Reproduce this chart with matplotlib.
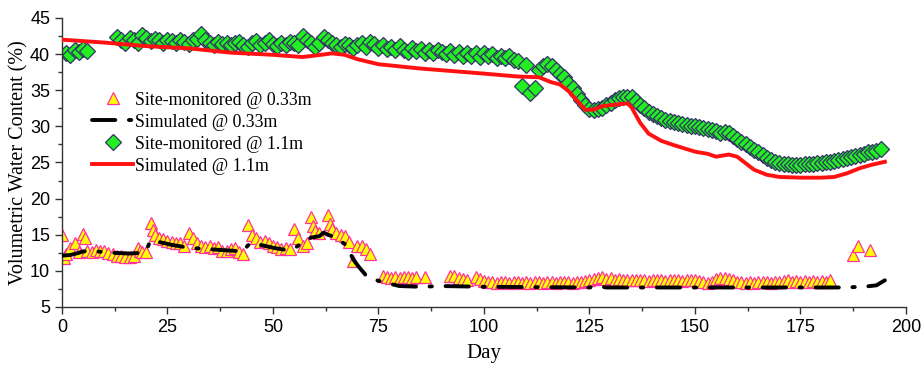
import matplotlib
matplotlib.use('Agg')
import matplotlib.pyplot as plt
from matplotlib.ticker import MultipleLocator

# --- site-monitored @ 0.33m (day, VWC %) ---
obs033_day = [0, 0.5, 1, 2, 3, 4, 5, 5.5, 6, 7, 8, 9, 10, 11, 12, 13, 14, 15, 16, 17,
              18, 18.5, 19, 20, 21, 21.5, 22, 23, 24, 25, 26, 27, 28, 29, 30, 31, 32, 33, 34, 35,
              36, 37, 38, 39, 40, 41, 42, 43, 44, 45, 46, 47, 48, 49, 50, 51, 52, 53, 54, 55,
              56, 57, 58, 59, 59.5, 60, 61, 63, 63.5, 64, 65, 66, 67, 68, 69, 70, 71, 72, 73,
              76, 77, 78, 79, 80, 81, 82, 83, 84, 86,
              92, 93, 94, 95, 96, 98, 99,
              100, 101, 102, 103, 104, 105, 106, 107, 108, 109, 110, 111, 112, 113, 114, 115, 116, 117, 118, 119,
              120, 121, 122, 123, 124, 125, 126, 127, 128, 129, 130, 131, 132, 133, 134, 135, 136, 137, 138, 139,
              140, 141, 142, 143, 144, 145, 146, 147, 148, 149, 150, 151, 152, 153, 154, 155, 156, 157, 158, 159,
              160, 161, 162, 163, 164, 165, 166, 167, 168, 169, 170, 171, 172, 173, 174, 175, 176, 177, 178, 179,
              180, 181, 182,
              187.5, 188.7, 191.5]
obs033_vwc = [14.9, 11.8, 12.3, 13.2, 13.8, 12.6, 15.1, 14.5, 12.7, 12.6, 12.9, 12.7, 12.8, 12.5, 12.3, 12.0, 12.1, 11.9, 11.9, 12.1,
              13.2, 12.7, 12.6, 12.6, 16.6, 15.6, 15.0, 14.6, 14.4, 14.2, 14.0, 13.8, 13.9, 13.5, 15.3, 14.5, 13.8, 13.5, 13.3, 13.4,
              13.2, 13.3, 12.8, 12.7, 13.0, 13.2, 12.6, 12.4, 16.4, 15.0, 14.6, 14.0, 14.2, 13.8, 13.5, 13.3, 13.0, 13.2, 13.0, 15.8,
              14.6, 13.5, 13.8, 17.4, 16.2, 15.5, 15.2, 17.8, 16.5, 15.8, 15.3, 15.0, 14.8, 14.0, 11.3, 13.5, 13.4, 13.0, 12.4,
              9.3, 9.2, 9.0, 9.1, 9.0, 9.2, 9.1, 9.0, 9.2, 9.2,
              9.3, 9.3, 9.0, 8.9, 8.8, 9.2, 8.9,
              8.6, 8.5, 8.4, 8.3, 8.4, 8.5, 8.3, 8.4, 8.5, 8.3, 8.4, 8.3, 8.5, 8.4, 8.3, 8.4, 8.5, 8.3, 8.4, 8.5,
              8.4, 8.3, 8.4, 8.5, 8.6, 8.7, 8.9, 9.0, 9.1, 8.9, 9.0, 8.8, 8.9, 8.8, 8.7, 8.8, 8.7, 8.8, 8.7, 8.6,
              8.7, 8.8, 8.7, 8.6, 8.7, 8.8, 8.7, 8.6, 8.7, 8.8, 8.7, 8.6, 8.5, 8.3, 8.5, 8.9, 9.0, 9.0, 8.9, 8.8,
              8.5, 8.4, 8.3, 8.4, 8.3, 8.4, 8.5, 8.4, 8.3, 8.5, 8.4, 8.6, 8.7, 8.5, 8.6, 8.5, 8.6, 8.5, 8.6, 8.5,
              8.6, 8.5, 8.8,
              12.2, 13.5, 12.9]

# --- simulated @ 0.33m ---
sim033_day = [0, 2, 4, 5, 8, 12, 16, 19, 20, 21, 23, 26, 30, 35, 40, 43, 44, 45, 47, 50,
              53, 55, 57, 59, 61, 62, 63, 65, 67, 68, 69, 70, 72, 74, 77, 80, 85, 90, 100, 125,
              127, 129, 185, 190, 193, 195]
sim033_vwc = [12.1, 12.2, 12.5, 12.7, 12.7, 12.5, 12.4, 12.5, 12.9, 14.2, 14.0, 13.6, 13.2, 13.0, 12.8, 12.7, 13.5, 13.9, 13.6, 13.2,
              12.9, 13.1, 13.9, 14.6, 14.8, 15.3, 15.0, 14.6, 13.7, 12.8, 11.6, 10.8, 9.4, 8.8, 8.3, 7.9, 7.8, 7.9, 7.8, 7.7,
              7.9, 7.7, 7.7, 7.8, 8.0, 8.7]

# --- site-monitored @ 1.1m ---
obs11_day = [1, 2, 3, 4, 5, 6] + list(range(13, 195))
obs11_vwc = [40.2, 39.9, 40.5, 40.3, 40.7, 40.4,
             42.3, 42.0, 41.6, 42.2, 41.9, 41.5, 42.7, 42.2, 41.8, 42.1, 41.9, 41.6, 42.0, 41.8, 41.5, 41.9, 41.7,
             41.4, 41.9, 42.1, 42.8, 42.0, 41.6, 41.3, 41.7, 41.4, 41.6, 41.2, 41.5, 41.7, 41.3, 41.0, 41.5, 41.8,
             41.3, 41.6, 41.9, 41.4, 41.1, 41.6, 41.3, 41.7, 41.5, 41.2, 42.5, 42.0, 41.6, 41.0,
             41.5, 42.3, 41.9, 41.6, 41.3, 41.0, 41.4, 41.2, 40.9, 41.3, 41.6, 41.0, 41.7, 41.4, 40.8, 41.2, 40.7,
             41.0, 40.5, 41.1, 40.6, 40.3, 40.9, 40.4, 40.7, 40.2, 40.6, 40.1, 40.5, 40.3, 40.0, 40.4, 39.9, 40.3,
             39.8, 40.2, 39.7, 40.1, 39.6, 40.2, 39.7, 40.0, 39.5, 39.8, 39.4, 39.7, 39.2, 39.0, 35.6, 38.5, 34.6,
             35.3, 37.8, 38.3, 38.6, 38.4, 37.8, 37.2, 36.8, 36.0, 35.3, 34.5, 33.6, 32.9, 32.4, 32.3, 32.4, 32.6,
             32.9, 33.3, 33.6, 33.9, 34.0, 34.1, 34.0, 33.5, 33.0, 32.5, 32.0, 31.7, 31.4, 31.2, 30.9, 30.8, 30.6,
             30.4, 30.3, 30.2, 30.1, 30.0, 29.9, 29.8, 29.6, 29.5, 29.3, 29.1, 29.2, 29.1, 28.7, 28.3, 27.9, 27.5,
             27.1, 26.7, 26.4, 26.0, 25.6, 25.3, 25.0, 24.9, 24.8, 24.8, 24.7, 24.7, 24.7, 24.8, 24.8, 24.8, 24.9,
             24.9, 25.0, 25.1, 25.2, 25.3, 25.5, 25.6, 25.8, 25.9, 26.1, 26.2, 26.4, 26.5, 26.6, 26.8]

# --- simulated @ 1.1m ---
sim11_day = [0, 10, 20, 30, 40, 50, 57, 60, 64, 67, 70, 75, 85, 100, 108, 113, 116, 118, 120, 122,
             124, 126, 128, 131, 134, 135, 137, 139, 142, 145, 150, 153, 155, 158, 160, 162, 164, 167, 170, 175,
             180, 183, 186, 189, 192, 195]
sim11_vwc = [42.0, 41.6, 41.1, 40.8, 40.2, 39.9, 39.6, 39.8, 40.1, 39.9, 39.3, 38.6, 38.0, 37.3, 36.9, 36.8, 36.1, 35.8, 34.9, 33.6,
             32.3, 32.3, 32.8, 33.0, 33.2, 32.6, 30.5, 29.0, 28.0, 27.4, 26.5, 26.2, 25.8, 26.1, 25.8, 24.9, 24.0, 23.3, 23.0, 22.9,
             22.9, 23.0, 23.5, 24.2, 24.7, 25.1]

fig = plt.figure(figsize=(9.21, 3.67), dpi=100)
ax = fig.add_axes([0.0673, 0.1635, 0.9164, 0.7875])

ax.plot(obs033_day, obs033_vwc, linestyle='none', marker='^', ms=9,
        mfc='#FFFF00', mec='#FF3399', mew=0.9, label='Site-monitored @ 0.33m', zorder=2)
ax.plot(sim033_day, sim033_vwc, color='black', lw=2.8, dashes=(6, 3.5, 0.6, 3.5),
        dash_capstyle='round', label='Simulated @ 0.33m', zorder=3)
ax.plot(obs11_day, obs11_vwc, linestyle='none', marker='D', ms=8.5,
        mfc='#22EE22', mec='#333366', mew=0.9, label='Site-monitored @ 1.1m', zorder=2)
ax.plot(sim11_day, sim11_vwc, color='#FF1111', lw=2.8, label='Simulated @ 1.1m', zorder=3)

ax.set_xlim(0, 200)
ax.set_ylim(5, 45)
ax.xaxis.set_major_locator(MultipleLocator(25))
ax.xaxis.set_minor_locator(MultipleLocator(12.5))
ax.yaxis.set_major_locator(MultipleLocator(5))
ax.yaxis.set_minor_locator(MultipleLocator(2.5))
ax.spines['top'].set_visible(False)
ax.spines['right'].set_visible(False)
for s in ('left', 'bottom'):
    ax.spines[s].set_color('#333333')
    ax.spines[s].set_linewidth(1.0)
ax.tick_params(which='major', direction='out', length=5, width=1, colors='#333333',
               labelsize=13, labelcolor='black')
ax.tick_params(which='minor', direction='out', length=3, width=1, colors='#333333')
for lab in ax.get_xticklabels() + ax.get_yticklabels():
    lab.set_family('Liberation Sans')

ax.set_xlabel('Day', family='Liberation Serif', fontsize=15, labelpad=6)
ax.set_ylabel('Volumetric Water Content (%)', family='Liberation Serif', fontsize=14.5, labelpad=1)

leg = ax.legend(loc='upper left', bbox_to_anchor=(0.036, 0.745), frameon=False,
                prop={'family': 'Liberation Serif', 'size': 12.8}, handlelength=2.3,
                handletextpad=0.12, labelspacing=0.28, borderaxespad=0, borderpad=0)

fig.savefig('out.png', dpi=100)
